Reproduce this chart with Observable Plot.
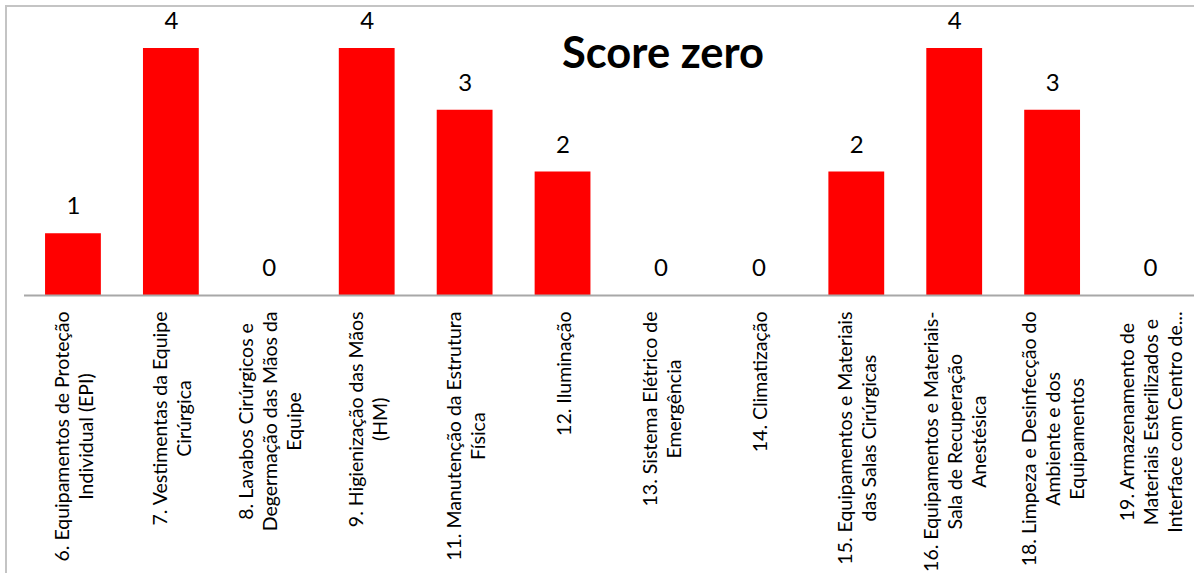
<!DOCTYPE html>
<html>
<head>
<meta charset="utf-8">
<script src="https://cdn.jsdelivr.net/npm/d3@7"></script>
<script src="https://cdn.jsdelivr.net/npm/@observablehq/plot@0.6"></script>
<style>
  html, body { margin: 0; padding: 0; background: #fff; overflow: hidden; width: 1194px; height: 573px; }
  #frame { position: absolute; left: 5px; top: 5px; width: 1400px; height: 800px; border: 2px solid #c4c4c4; box-sizing: border-box; }
  #chart { position: absolute; left: 0; top: 0; }
</style>
</head>
<body>
<div id="frame"></div>
<div id="chart"></div>
<script>
// Chart title
const title = "Score zero";

// Checklist items (wrapped as they are printed under the axis)
const categories = [
  "6. Equipamentos de Proteção\nIndividual (EPI)",
  "7. Vestimentas da Equipe\nCirúrgica",
  "8. Lavabos Cirúrgicos e\nDegermação das Mãos da\nEquipe",
  "9. Higienização das Mãos\n(HM)",
  "11. Manutenção da Estrutura\nFísica",
  "12. Iluminação",
  "13. Sistema Elétrico de\nEmergência",
  "14. Climatização",
  "15. Equipamentos e Materiais\ndas Salas Cirúrgicas",
  "16. Equipamentos e Materiais-\nSala de Recuperação\nAnestésica",
  "18. Limpeza e Desinfecção do\nAmbiente e dos\nEquipamentos",
  "19. Armazenamento de\nMateriais Esterilizados e\nInterface com Centro de..."
];

// Number of items scored zero
const scores = [1, 4, 0, 4, 3, 2, 0, 0, 2, 4, 3, 0];

const data = categories.map((c, i) => ({category: c, score: scores[i]}));

const FONT = "Lato, 'Open Sans', sans-serif";

const chart = Plot.plot({
  width: 1200,
  height: 573,
  marginLeft: 24,
  marginRight: 1,
  marginTop: 48,
  marginBottom: 278,
  style: {fontFamily: FONT, background: "transparent", maxWidth: "none", color: "#000"},
  x: {domain: categories, paddingInner: 0.43, paddingOuter: 0.215, round: false, label: null},
  y: {domain: [0, 4], axis: null, nice: false},
  marks: [
    Plot.barY(data, {x: "category", y: "score", fill: "#ff0000"}),
    Plot.ruleY([0], {stroke: "#a8a8a8", strokeWidth: 2}),
    Plot.text(data, {
      x: "category", y: "score", text: d => String(d.score),
      dy: -27, fontSize: 24, fill: "#000", lineAnchor: "middle"
    }),
    Plot.axisX({
      tickSize: 0, tickPadding: 16, tickRotate: -90,
      fontSize: 19.5, lineHeight: 1.23, textAnchor: "end", lineAnchor: "middle",
      fill: "#000", label: null
    }),
    Plot.text([title], {
      frameAnchor: "top", text: d => d, dx: 51, dy: 5.8,
      fontSize: 43.5, fontWeight: "bold", fill: "#000", lineAnchor: "middle"
    })
  ]
});

document.getElementById("chart").append(chart);

// Center the wrapped lines of each rotated tick label on its longest line,
// keeping the top of the block just below the axis.
chart.querySelectorAll('g[aria-label="x-axis tick label"] text').forEach(text => {
  const spans = Array.from(text.querySelectorAll("tspan"));
  const parts = spans.length ? spans : [text];
  const longest = Math.max(...parts.map(p => p.getComputedTextLength()));
  text.setAttribute("text-anchor", "middle");
  text.style.textAnchor = "middle";
  parts.forEach(p => p.setAttribute("x", -longest / 2));
});
</script>
</body>
</html>
